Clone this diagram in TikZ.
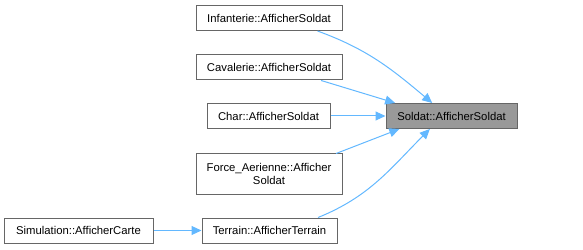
\documentclass[tikz,border=0pt]{standalone}
\usepackage{fontspec}
\setmainfont{Liberation Sans}
\usetikzlibrary{arrows.meta}

\definecolor{callblue}{HTML}{63B8FF}
\definecolor{boxgray}{HTML}{666666}
\definecolor{curgray}{HTML}{999999}

\begin{document}
\begin{tikzpicture}[x=1pt, y=1pt,
  fn/.style={draw=boxgray, line width=1pt, fill=white, inner sep=1pt,
    minimum height=25pt, align=center, font=\fontsize{11.3}{13.5}\selectfont},
  cur/.style={fn, fill=curgray},
  call/.style={draw=callblue, line width=1pt,
    -{Triangle[length=10pt, width=9pt, fill=callblue]}},
]
  \useasboundingbox (0,0) rectangle (583,249);
  % fonctions appelantes
  \node[fn, minimum width=146pt] (inf) at (269,231) {Infanterie::AfficherSoldat};
  \node[fn, minimum width=146pt] (cav) at (269,181.5) {Cavalerie::AfficherSoldat};
  \node[fn, minimum width=123pt] (chr) at (268.5,133) {Char::AfficherSoldat};
  \node[fn, minimum width=146pt, minimum height=40pt] (air) at (269,75)
    {Force\_Aerienne::Afficher\\Soldat};
  \node[fn, minimum width=135pt] (ter) at (269.5,18.5) {Terrain::AfficherTerrain};
  \node[fn, minimum width=149pt] (sim) at (78.5,18.5) {Simulation::AfficherCarte};
  % fonction courante
  \node[cur, minimum width=131pt] (sol) at (451.5,133) {Soldat::AfficherSoldat};
  % appels
  \draw[call] (inf.-15) to[out=-20, in=140] (sol.146);
  \draw[call] (cav.-14) -- (sol.167);
  \draw[call] (chr) -- (sol);
  \draw[call] (air.17) -- (sol.-166);
  \draw[call] (ter.15) to[out=22, in=-135] (sol.-149);
  \draw[call] (sim) -- (ter);
\end{tikzpicture}
\end{document}
